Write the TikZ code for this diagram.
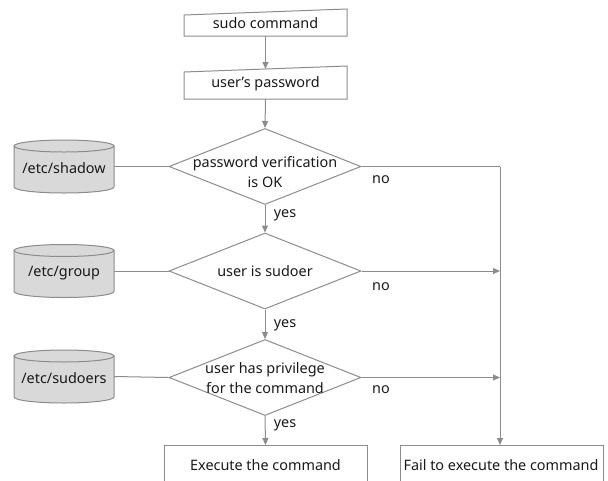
\documentclass[tikz,border=0pt]{standalone}
\usepackage{fontspec}
\setmainfont{Noto Sans}
\usetikzlibrary{shapes.geometric,arrows.meta}
\definecolor{ln}{RGB}{140,140,140}
\definecolor{txt}{RGB}{25,25,25}
\definecolor{cyl}{RGB}{217,217,217}
\tikzset{
  every node/.style={text=txt,font=\fontsize{14.4}{19.5}\selectfont},
  conn/.style={draw=ln,line width=1pt},
  arr/.style={conn,-{Triangle[width=6pt,length=7pt]}},
  decision/.style={diamond,draw=ln,line width=1pt,minimum width=192pt,minimum height=76pt,inner sep=0pt},
  inbox/.style={draw=ln,line width=1pt},
  anchorbox/.style={inner sep=0pt,minimum width=163pt,minimum height=24pt},
  cylbody/.style={draw=ln,fill=cyl,line width=1pt},
  endbox/.style={draw=ln,line width=1pt,minimum width=203pt,minimum height=50pt,anchor=north,inner sep=0pt,text depth=0pt},
  lbl/.style={inner sep=0pt}
}
\begin{document}
\begin{tikzpicture}[x=1pt,y=-1pt]
\useasboundingbox (0,0) rectangle (608,480);
\clip (0,0) rectangle (608,480);
% manual input boxes
\draw[inbox] (184,15) -- (347,9) -- (347,36) -- (184,36) -- cycle;
\node[anchorbox] (sudo) at (265.5,24) {};
\node[lbl] (sudot) at (265.5,23) {sudo command};
\draw[inbox] (184,72) -- (347,66) -- (347,99) -- (184,99) -- cycle;
\node[anchorbox,minimum height=30pt] (pw) at (265.5,84) {};
\node[lbl] (pwt) at (265.5,84) {user’s password};
% decisions
\node[decision] (d1) at (265,166.5) {};
\node[lbl,align=center] (d1t) at (265,172) {password verification\\is OK};
\node[decision] (d2) at (265,271) {};
\node[lbl] (d2t) at (265,271) {user is sudoer};
\node[decision] (d3) at (265,377.5) {};
\node[lbl,align=center] (d3t) at (265,378) {user has privilege\\for the command};
% cylinders
\foreach \n/\cy/\t in {shadow/166.5/{/etc/shadow},group/271/{/etc/group},sudoers/376.5/{/etc/sudoers}}{
  \path[cylbody] (14,\cy-20.5) -- (14,\cy+20.5)
     arc[start angle=180,end angle=0,x radius=50,y radius=6]
     -- (114,\cy-20.5) -- cycle;
  \draw[cylbody] (64,\cy-20.5) ellipse[x radius=50,y radius=6];
  \node[inner sep=0pt,minimum width=100pt,minimum height=53pt] (\n) at (64,\cy) {};
  \node[lbl] (\n t) at (64,\cy+2) {\t};
}
% end boxes
\node[endbox] (exec) at (265.5,445) {};
\node[lbl] (exect) at (265.5,465) {Execute the command};
\node[endbox] (fail) at (501.5,445) {};
\node[lbl] (failt) at (501,465) {Fail to execute the command};
\coordinate (j1) at (500,166.5);
\coordinate (j2) at (500,271);
\coordinate (j3) at (500,377.5);
% connectors
\draw[arr] (sudo.south) -- (265.5,69);
\draw[arr] (pw.south) -- (d1.north);
\draw[arr] (d1.south) -- (d2.north);
\draw[arr] (d2.south) -- (d3.north);
\draw[arr] (d3.south) -- (exec.north);
\draw[conn] (shadow.east) -- (d1.west);
\draw[conn] (group.east) -- (d2.west);
\draw[conn] (sudoers.east) -- (d3.west);
\draw[conn] (d1.east) -- (j1);
\draw[arr] (j1) -- (fail.north -| j1);
\draw[arr] (d2.east) -- (j2);
\draw[arr] (d3.east) -- (j3);
% labels
\node[lbl] (no1) at (381,180) {no};
\node[lbl] (no2) at (381,287) {no};
\node[lbl] (no3) at (381,390) {no};
\node[lbl] (yes1) at (285,215) {yes};
\node[lbl] (yes2) at (285,325) {yes};
\node[lbl] (yes3) at (285,425) {yes};
\end{tikzpicture}
\end{document}
